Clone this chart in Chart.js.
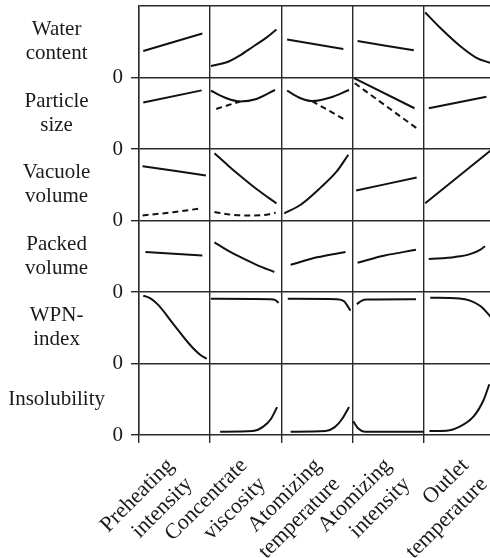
<!DOCTYPE html>
<html><head><meta charset="utf-8">
<script src="https://cdn.jsdelivr.net/npm/chart.js@4.4.0/dist/chart.umd.min.js"></script>
<style>html,body{margin:0;padding:0;background:#fff;overflow:hidden}canvas{display:block}</style>
</head><body><canvas id="c" width="490" height="558"></canvas>
<script>
// Column (factor) labels, left to right
const columns = [['Preheating','intensity'],['Concentrate','viscosity'],['Atomizing','temperature'],['Atomizing','intensity'],['Outlet','temperature']];
// Row (property) labels, top to bottom
const rows = [['Water','content'],['Particle','size'],['Vacuole','volume'],['Packed','volume'],['WPN-','index'],['Insolubility']];
// y tick labels at row boundaries, bottom to top
const yTickLabels = ['0','0','0','0','0','0',''];

// Each row: one curve per column, points [position within cell, relative value]
const waterContent = [
  [[0.06,0.37],[0.89,0.615]],
  [[0.01,0.16],[0.25,0.22],[0.42,0.31],[0.6,0.43],[0.78,0.55],[0.93,0.67]],
  [[0.08,0.53],[0.87,0.40]],
  [[0.07,0.51],[0.86,0.38]],
  [[0.02,0.91],[0.23,0.695],[0.51,0.44],[0.74,0.275],[0.95,0.2]]
];
const particleSize = [
  [[0.06,0.65],[0.88,0.82]],
  [[0.01,0.815],[0.23,0.71],[0.42,0.665],[0.65,0.70],[0.91,0.825]],
  [[0.08,0.815],[0.27,0.71],[0.43,0.67],[0.69,0.72],[0.95,0.825]],
  [[0.02,0.99],[0.87,0.57]],
  [[0.07,0.57],[0.88,0.73]]
];
const particleSizeDashed = [
  [],
  [[0.085,0.56],[0.42,0.665]],
  [[0.43,0.67],[0.9,0.405]],
  [[0.03,0.92],[0.9,0.29]],
  []
];
const vacuoleVolume = [
  [[0.05,0.76],[0.94,0.63]],
  [[0.06,0.94],[0.25,0.77],[0.42,0.625],[0.65,0.44],[0.93,0.24]],
  [[0.04,0.10],[0.27,0.22],[0.55,0.46],[0.78,0.69],[0.94,0.92]],
  [[0.05,0.42],[0.9,0.60]],
  [[0.02,0.24],[0.96,0.995]]
];
const vacuoleVolumeDashed = [
  [[0.05,0.07],[0.48,0.116],[0.88,0.17]],
  [[0.06,0.12],[0.3,0.08],[0.55,0.07],[0.75,0.075],[0.92,0.11]],
  [],[],[]
];
const packedVolume = [
  [[0.09,0.56],[0.89,0.51]],
  [[0.06,0.695],[0.25,0.58],[0.42,0.49],[0.65,0.38],[0.9,0.28]],
  [[0.13,0.38],[0.5,0.485],[0.9,0.56]],
  [[0.07,0.41],[0.45,0.51],[0.89,0.59]],
  [[0.07,0.46],[0.44,0.49],[0.65,0.53],[0.79,0.59],[0.86,0.64]]
];
const wpnIndex = [
  [[0.06,0.95],[0.16,0.91],[0.27,0.82],[0.48,0.555],[0.7,0.28],[0.85,0.13],[0.95,0.065]],
  [[0.01,0.905],[0.85,0.9],[0.91,0.89],[0.96,0.85]],
  [[0.09,0.905],[0.78,0.9],[0.88,0.87],[0.97,0.74]],
  [[0.06,0.83],[0.13,0.88],[0.2,0.895],[0.89,0.9]],
  [[0.09,0.92],[0.5,0.91],[0.65,0.88],[0.8,0.8],[0.95,0.64]]
];
const insolubility = [
  [],
  [[0.14,0.046],[0.6,0.056],[0.75,0.12],[0.85,0.22],[0.94,0.39]],
  [[0.13,0.046],[0.62,0.056],[0.75,0.11],[0.85,0.22],[0.95,0.39]],
  [[0.01,0.19],[0.08,0.09],[0.17,0.046],[1.0,0.046]],
  [[0.08,0.056],[0.32,0.06],[0.51,0.12],[0.7,0.26],[0.84,0.49],[0.92,0.71]]
];

const solidRows = [waterContent, particleSize, vacuoleVolume, packedVolume, wpnIndex, insolubility];
const dashedRows = [null, particleSizeDashed, vacuoleVolumeDashed, null, null, null];

const LINE = '#111';
const GRID = '#2a2a2a';
const FONT = {family: "'Liberation Serif', 'Times New Roman', serif", size: 21, lineHeight: 1.15};
const XMAX = 4.93;
const COLW = (490 - 139) / XMAX;           // px per column (layout only)
const labelNudgePx = [-4, -2, 1, 0, 6];    // small horizontal label nudges (layout only)

const datasets = [];
function addRow(rowArr, rowIdx, dashed) {
  const base = rows.length - 1 - rowIdx;
  rowArr.forEach((pts, col) => {
    if (!pts.length) return;
    datasets.push({
      data: pts.map(p => ({x: col + p[0], y: base + p[1]})),
      borderColor: LINE, borderWidth: 2, pointRadius: 0, fill: false,
      cubicInterpolationMode: 'monotone',
      borderDash: dashed ? [6, 4] : [],
      xAxisID: 'x', yAxisID: 'y'
    });
  });
}
solidRows.forEach((r, i) => addRow(r, i, false));
dashedRows.forEach((r, i) => { if (r) addRow(r, i, true); });

function zeroPad(s) { s.paddingTop = 0; s.paddingBottom = 0; s.paddingLeft = 0; s.paddingRight = 0; }

new Chart(document.getElementById('c'), {
  type: 'line',
  data: {datasets},
  options: {
    responsive: false, animation: false,
    layout: {padding: {top: 6, left: 0, right: 0, bottom: 0}},
    plugins: {legend: {display: false}, tooltip: {enabled: false}},
    scales: {
      x: {
        type: 'linear', position: 'bottom', weight: 0, min: 0, max: XMAX,
        afterBuildTicks: s => { s.ticks = [0,1,2,3,4].map(v => ({value: v})); },
        ticks: {display: false},
        grid: {color: GRID, lineWidth: 1.4, tickLength: 8, tickColor: GRID},
        border: {display: false},
        afterFit: s => { s.height = 8; zeroPad(s); }
      },
      xl: {
        type: 'linear', position: 'bottom', weight: 1, min: 0, max: XMAX,
        afterBuildTicks: s => { s.ticks = columns.map((c, i) => ({value: i + 0.5 + labelNudgePx[i] / COLW})); },
        ticks: {
          autoSkip: false, minRotation: 45, maxRotation: 45, padding: 10,
          color: '#1a1a1a', font: {...FONT, size: 22, lineHeight: 1.2},
          callback: v => columns[Math.min(columns.length - 1, Math.max(0, Math.round(v - 0.5)))]
        },
        grid: {display: false, drawTicks: false},
        border: {display: false},
        afterFit: s => { s.height = 115; zeroPad(s); }
      },
      y: {
        type: 'linear', position: 'left', weight: 0, min: 0, max: rows.length,
        afterBuildTicks: s => { s.ticks = yTickLabels.map((l, i) => ({value: i})); },
        ticks: {autoSkip: false, padding: 8, color: '#1a1a1a', font: FONT,
          callback: (v) => yTickLabels[Math.round(v)]},
        grid: {color: GRID, lineWidth: 1.4, tickLength: 8,
          tickColor: ctx => (ctx.tick && ctx.tick.value === rows.length) ? 'rgba(0,0,0,0)' : GRID},
        border: {color: GRID, width: 1.4},
        afterFit: s => { s.width = 29; zeroPad(s); }
      },
      yl: {
        type: 'linear', position: 'left', weight: 1, min: 0, max: rows.length,
        afterBuildTicks: s => { s.ticks = rows.map((r, i) => ({value: rows.length - 1 - i + 0.5})); },
        ticks: {autoSkip: false, padding: 5, crossAlign: 'center', color: '#1a1a1a', font: FONT,
          callback: v => rows[rows.length - 1 - Math.floor(v)]},
        grid: {display: false, drawTicks: false},
        border: {display: false},
        afterFit: s => { s.width = 110; zeroPad(s); }
      }
    }
  }
});
</script>
</body></html>
